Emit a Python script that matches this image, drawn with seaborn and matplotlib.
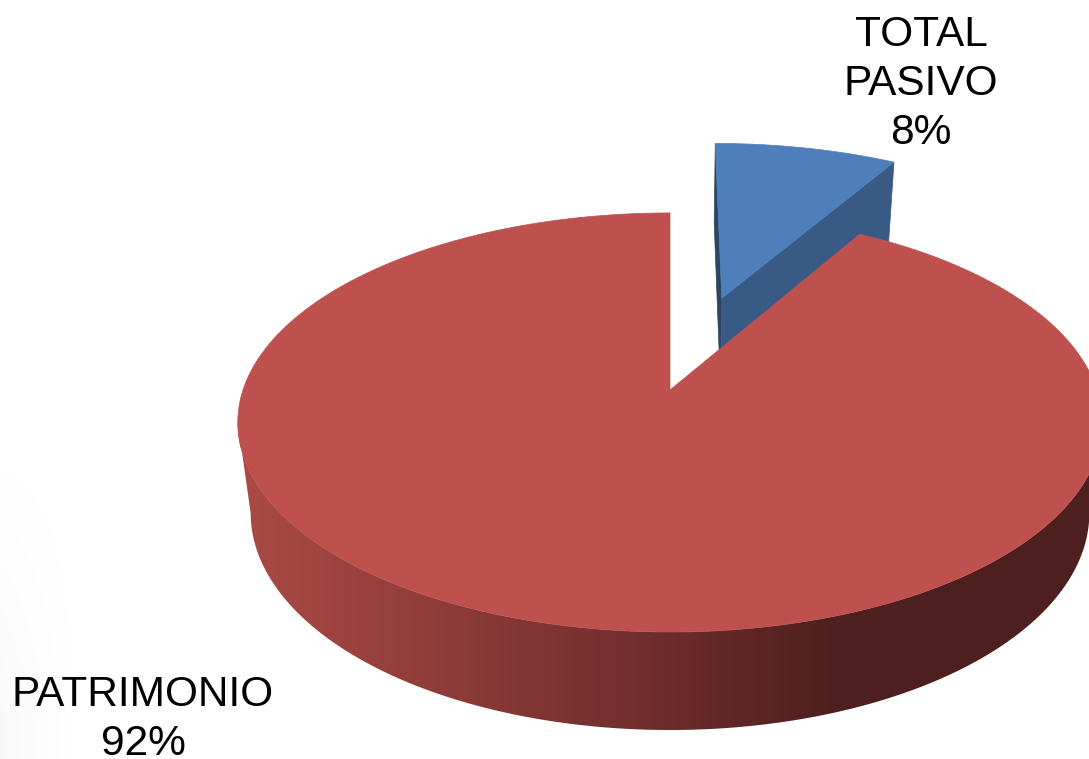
import numpy as np
import matplotlib
matplotlib.use("Agg")
import matplotlib.pyplot as plt
from matplotlib.patches import Polygon
import seaborn as sns

# data
labels = ["TOTAL\nPASIVO", "PATRIMONIO"]
shares = [8.4, 91.6]
shown_pct = [8, 92]
top_colors = ["#4F7FBB", "#BE504D"]
blue_side = "#385A85"
blue_edge = "#2B4562"
rim_colors = ["#A94A45", "#963F3C", "#7F3533", "#692A2A", "#4D1F1E"]

sns.set_theme(style="white")
plt.rcParams["font.family"] = ["Liberation Sans", "DejaVu Sans"]

fig, ax = plt.subplots(figsize=(10.89, 7.59), dpi=100)
fig.subplots_adjust(0, 0, 1, 1)

# let pie work out the angles and the explode offsets, the look is redrawn in perspective
wedges, _ = ax.pie(shares, explode=[0.25, 0.25], startangle=90, counterclock=False, colors=top_colors)
for w in wedges:
    w.set_visible(False)
blue, red = wedges

ax.set_aspect("auto")
ax.axis("off")

# camera numbers fitted to the screenshot
cx, cy = 670, 390
fx, fy, depth = 427, 204.5, 93
persp, persp_z = 0.155, 0.03


def project(u, v, z=0.0):
    u = np.asarray(u) - red.center[0]
    v = np.asarray(v) - red.center[1]
    z = np.asarray(z)
    w = 1 + persp * v + persp_z * z
    return cx + fx * u / w, cy + (-fy * v + depth * z) / w


def top_face(wedge, color, zorder):
    t = np.radians(np.linspace(wedge.theta1, wedge.theta2, 500))
    u, v = wedge.center[0] + np.cos(t), wedge.center[1] + np.sin(t)
    x, y = project(np.r_[wedge.center[0], u], np.r_[wedge.center[1], v])
    ax.fill(x, y, color=color, lw=0.5, zorder=zorder)


def cut_face(wedge, theta, color):
    u0, v0 = wedge.center
    t = np.radians(theta)
    uc, vc = u0 + np.cos(t), v0 + np.sin(t)
    x, y = project([u0, uc, uc, u0], [v0, vc, vc, v0], [0, 0, 1, 1])
    ax.fill(x, y, color=color, lw=0.5, zorder=1)


# faint grey corner of the slide behind the chart
yy, xx = np.mgrid[0:759, 0:1089]
shade = np.clip(1 - xx / 90, 0, 1) * np.clip((yy - 420) / 300, 0, 1) * 0.025
ax.imshow(1 - shade, cmap="gray", vmin=0, vmax=1, extent=(0, 1089, 759, 0), aspect="auto", zorder=0)

# blue slice: cut faces first, then top
cut_face(blue, blue.theta2, blue_edge)
cut_face(blue, blue.theta1, blue_side)
top_face(blue, top_colors[0], 1)

# red slice: rim is a left to right gradient clipped to the front of the side wall
rim_cmap = sns.blend_palette(rim_colors, as_cmap=True)
t = np.radians(np.linspace(-260, 50, 1500))
ru, rv = red.center[0] + np.cos(t), red.center[1] + np.sin(t)
x_t, y_t = project(ru, rv, 0)
x_b, y_b = project(ru, rv, 1)
# silhouette runs between the left-most and right-most points of each ellipse
t_keep = slice(np.argmin(x_t), np.argmax(x_t) + 1)
b_keep = slice(np.argmin(x_b), np.argmax(x_b) + 1)
outline = Polygon(np.c_[np.r_[x_t[t_keep], x_b[b_keep][::-1]], np.r_[y_t[t_keep], y_b[b_keep][::-1]]],
                  closed=True, transform=ax.transData, fc="none", ec="none")
ax.add_patch(outline)
# the wall keeps the end colours outside the 245..840 ramp
ramp_x = np.arange(200, 1100)
ramp = np.clip((ramp_x - 245) / 595, 0, 1).reshape(1, -1)
rim = ax.imshow(ramp, cmap=rim_cmap, vmin=0, vmax=1, extent=(200, 1100, 759, 0), aspect="auto", zorder=2)
rim.set_clip_path(outline)
top_face(red, top_colors[1], 3)

ax.set_xlim(0, 1089)
ax.set_ylim(759, 0)

# labels
label_pos = [(921, 15), (143, 675)]
for lab, pct, (lx, ly) in zip(labels, shown_pct, label_pos):
    ax.text(lx, ly, f"{lab}\n{pct}%", ha="center", va="top", fontsize=30.5, zorder=4,
            color="black", linespacing=1.29, multialignment="center")

fig.savefig("out.png", dpi=100)
